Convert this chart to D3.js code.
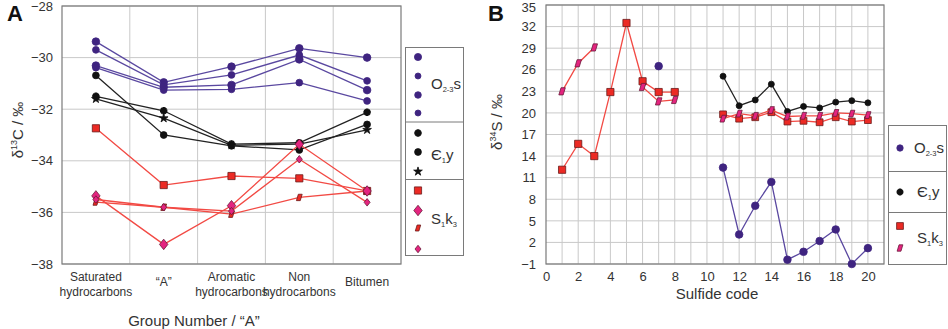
<!DOCTYPE html>
<html>
<head>
<meta charset="utf-8">
<script src="https://cdn.jsdelivr.net/npm/d3@7"></script>
<style>
  body { margin: 0; background: #fff; }
  text { font-family: "Liberation Sans", Arial, sans-serif; fill: #333; }
</style>
</head>
<body>
<svg id="chart" width="948" height="329"></svg>
<script>
// ---- panel A data ----
const groupsA = ["Saturated|hydrocarbons", "“A”", "Aromatic|hydrocarbons", "Non|hydrocarbons", "Bitumen"];
const ticksA = [-28, -30, -32, -34, -36, -38];

const o23sA1 = [-29.38, -30.96, -30.35, -29.64, -30.0];
const o23sA2 = [-29.7, -31.06, -30.67, -29.9, -30.9];
const o23sA3 = [-30.31, -31.15, -31.06, -30.07, -31.26];
const o23sA4 = [-30.39, -31.26, -31.23, -30.97, -31.68];

const e1yA1 = [-31.5, -32.06, -33.35, -33.3, -32.12];
const e1yA2 = [-30.69, -33.0, -33.42, -33.58, -32.59];
const e1yA3 = [-31.6, -32.35, -33.4, -33.35, -32.8];

const s1k3A1 = [-32.74, -34.94, -34.59, -34.68, -35.17];
const s1k3A2 = [-35.36, -37.24, -35.74, -33.36, -35.17];
const s1k3A3 = [-35.6, -35.8, -36.07, -35.42, -35.17];
const s1k3A4 = [-35.5, -35.8, -35.95, -33.94, -35.61];

// ---- panel B data ----
const ticksBy = [35, 32, 29, 26, 23, 20, 17, 14, 11, 8, 5, 2, -1];
const ticksBx = [0, 2, 4, 6, 8, 10, 12, 14, 16, 18, 20];

const sqCodesB1 = [1, 2, 3, 4, 5, 6, 7, 8];
const sqValsB1 = [12.1, 15.7, 14.0, 22.9, 32.5, 24.4, 22.9, 22.9];
const sqCodesB2 = [11, 12, 13, 14, 15, 16, 17, 18, 19, 20];
const sqValsB2 = [19.8, 19.2, 19.4, 20.1, 18.8, 18.9, 18.7, 19.4, 18.8, 19.0];

const flagCodesB1 = [1, 2, 3];
const flagValsB1 = [23.0, 26.9, 29.1];
const flagCodesB2 = [6, 7, 8];
const flagValsB2 = [23.6, 21.6, 21.8];
const flagCodesB3 = [11, 12, 13, 14, 15, 16, 17, 18, 19, 20];
const flagValsB3 = [19.2, 19.9, 19.6, 20.4, 19.5, 19.6, 19.6, 20.0, 19.9, 19.7];

const blackCodesB = [11, 12, 13, 14, 15, 16, 17, 18, 19, 20];
const blackValsB = [25.1, 21.0, 21.8, 24.0, 20.2, 20.9, 20.7, 21.5, 21.7, 21.4];

const purpleCodesB1 = [7];
const purpleValsB1 = [26.5];
const purpleCodesB2 = [11, 12, 13, 14, 15, 16, 17, 18, 19, 20];
const purpleValsB2 = [12.4, 3.1, 7.1, 10.4, -0.4, 0.7, 2.2, 3.8, -1.0, 1.2];

const PURPLE = "#3f2480", PURPLE_LINE = "#5a48a0";
const RED = "#ec2a24", PINK = "#e4247f", RED_LINE = "#f24a44";
const GRID = "#c9c9c9", FRAME = "#7a7a7a";

let svg = d3.select("#chart");

// custom marker paths
function flagPath(s) {
  return `M${-s * 0.9},${s} L${-s * 0.3},${-s} L${s * 0.9},${-s} L${s * 0.3},${s} Z`;
}
function markerPath(kind, s) {
  if (kind === "circle") return d3.symbol(d3.symbolCircle, s * s * 3.14)();
  if (kind === "square") return d3.symbol(d3.symbolSquare, s * s * 4)();
  if (kind === "diamond") return `M0,${-s * 1.25} L${s},0 L0,${s * 1.25} L${-s},0 Z`;
  if (kind === "star") return d3.symbol(d3.symbolStar, s * s * 3)();
  if (kind === "hex") return d3.symbol(d3.symbolCircle, s * s * 3.14)();
  if (kind === "flag") return flagPath(s);
  return "";
}
function drawMarker(g, kind, x, y, s, fill, stroke) {
  g.append("path")
    .attr("d", markerPath(kind, s))
    .attr("transform", `translate(${x},${y})`)
    .attr("fill", fill)
    .attr("stroke", stroke)
    .attr("stroke-width", 0.8);
  if (kind === "spiky") {
    // circle with small spikes
    g.append("path").attr("d", d3.symbol(d3.symbolCircle, s * s * 3)())
      .attr("transform", `translate(${x},${y})`).attr("fill", fill);
    g.append("path").attr("d", d3.symbol(d3.symbolCross, s * s * 4.5)())
      .attr("transform", `translate(${x},${y}) rotate(45)`).attr("fill", fill);
    g.append("path").attr("d", d3.symbol(d3.symbolCross, s * s * 4.5)())
      .attr("transform", `translate(${x},${y})`).attr("fill", fill);
  }
}

// ================= PANEL A =================
let ax = d3.scaleBand().domain(d3.range(groupsA.length)).range([62, 401]);
let ay = d3.scaleLinear().domain([-38, -28]).range([264, 6]);
let xc = i => ax(i) + ax.bandwidth() / 2;

let gA = svg.append("g");

// grid
gA.selectAll(".hgrid").data(ticksA).enter().append("line")
  .attr("x1", 62).attr("x2", 401)
  .attr("y1", d => ay(d)).attr("y2", d => ay(d))
  .attr("stroke", GRID).attr("stroke-width", 1);
gA.selectAll(".vgrid").data(d3.range(1, groupsA.length)).enter().append("line")
  .attr("x1", d => ax(d)).attr("x2", d => ax(d))
  .attr("y1", 6).attr("y2", 264)
  .attr("stroke", GRID).attr("stroke-width", 1);
gA.append("rect").attr("x", 62).attr("y", 6).attr("width", 339).attr("height", 258)
  .attr("fill", "none").attr("stroke", FRAME).attr("stroke-width", 1.2);

// y axis
let yAxisA = d3.axisLeft(ay).tickValues(ticksA).tickSize(0).tickPadding(9);
gA.append("g").attr("transform", "translate(62,0)").call(yAxisA)
  .call(g => g.select(".domain").remove())
  .selectAll("text").attr("font-size", 13).style("fill", "#333")
  .attr("font-family", "Liberation Sans, Arial, sans-serif");

// category labels
groupsA.forEach((lab, i) => {
  let parts = lab.split("|");
  let t = gA.append("text").attr("text-anchor", "middle").attr("font-size", 12);
  if (parts.length === 1) {
    t.attr("x", xc(i)).attr("y", 286).text(parts[0]);
  } else {
    t.append("tspan").attr("x", xc(i)).attr("y", 281).text(parts[0]);
    t.append("tspan").attr("x", xc(i)).attr("y", 296).text(parts[1]);
  }
});

gA.append("text").attr("x", 194).attr("y", 326).attr("text-anchor", "middle")
  .attr("font-size", 15).text("Group Number / “A”");

let ylabA = gA.append("text").attr("transform", "translate(23,130) rotate(-90)")
  .attr("text-anchor", "middle").attr("font-size", 15);
ylabA.append("tspan").text("δ");
ylabA.append("tspan").attr("font-size", 9).attr("dy", -6).text("13");
ylabA.append("tspan").attr("dy", 6).text("C / ‰");

gA.append("text").attr("x", 7).attr("y", 21).attr("font-size", 22)
  .attr("font-weight", "bold").style("fill", "#111").text("A");

let lineA = d3.line().x((d, i) => xc(i)).y(d => ay(d));

function seriesA(vals, color, kind, s, fill, stroke) {
  gA.append("path").datum(vals).attr("d", lineA)
    .attr("fill", "none").attr("stroke", color).attr("stroke-width", 1.3);
  vals.forEach((v, i) => drawMarker(gA, kind, xc(i), ay(v), s, fill, stroke));
}

seriesA(o23sA1, PURPLE_LINE, "circle", 3.8, PURPLE, PURPLE);
seriesA(o23sA2, PURPLE_LINE, "circle", 3.4, PURPLE, PURPLE);
seriesA(o23sA3, PURPLE_LINE, "circle", 3.8, PURPLE, PURPLE);
seriesA(o23sA4, PURPLE_LINE, "circle", 3.4, PURPLE, PURPLE);

seriesA(e1yA1, "#222", "spiky", 2.6, "#111", "#111");
seriesA(e1yA2, "#222", "hex", 3.4, "#111", "#111");
seriesA(e1yA3, "#222", "star", 2.8, "#111", "#111");

seriesA(s1k3A1, RED_LINE, "square", 3.6, RED, "#6a1a1a");
seriesA(s1k3A3, RED_LINE, "flag", 3.2, RED, "#6a1a1a");
seriesA(s1k3A2, RED_LINE, "diamond", 4.2, PINK, "#6a1a3a");
seriesA(s1k3A4, RED_LINE, "diamond", 3.0, PINK, "#6a1a3a");

// legend A
let legA = gA.append("g");
legA.append("rect").attr("x", 405.5).attr("y", 47.5).attr("width", 58).attr("height", 208)
  .attr("fill", "none").attr("stroke", FRAME).attr("stroke-width", 1);
[122, 179.5].forEach(y => legA.append("line").attr("x1", 405.5).attr("x2", 463.5)
  .attr("y1", y).attr("y2", y).attr("stroke", FRAME));
[[57, 3.6], [76, 3.0], [95, 3.3], [113, 3.0]].forEach(([y, s]) =>
  drawMarker(legA, "circle", 418, y, s, PURPLE, PURPLE));
drawMarker(legA, "spiky", 418, 133, 2.6, "#111", "#111");
drawMarker(legA, "hex", 418, 152, 3.4, "#111", "#111");
drawMarker(legA, "star", 418, 171.5, 2.8, "#111", "#111");
drawMarker(legA, "square", 418, 190.5, 3.6, RED, "#6a1a1a");
drawMarker(legA, "diamond", 418, 210.5, 4.2, PINK, "#6a1a3a");
drawMarker(legA, "flag", 418, 228, 3.0, RED, "#6a1a1a");
drawMarker(legA, "diamond", 418, 249, 3.0, PINK, "#6a1a3a");

function subLabel(g, x, y, main, sub, tail, size) {
  let t = g.append("text").attr("x", x).attr("y", y).attr("font-size", size);
  t.append("tspan").text(main);
  t.append("tspan").attr("font-size", size * 0.5).attr("dy", 3).text(sub);
  t.append("tspan").attr("dy", -3).text(tail);
  return t;
}
subLabel(legA, 431, 89, "O", "2-3", "s", 15);
subLabel(legA, 431, 160, "Є", "1", "y", 15);
subLabel(legA, 431, 224, "S", "1", "k", 15).append("tspan")
  .attr("font-size", 7.5).attr("dy", 3).text("3");

// ================= PANEL B =================
let bx = d3.scaleLinear().domain([0, 21]).range([546, 884]);
let by = d3.scaleLinear().domain([-1, 35]).range([264, 5]);
let gB = svg.append("g");

gB.selectAll(".vg").data(d3.range(1, 21)).enter().append("line")
  .attr("x1", d => bx(d)).attr("x2", d => bx(d)).attr("y1", 5).attr("y2", 264)
  .attr("stroke", GRID);
gB.selectAll(".hg").data(ticksBy).enter().append("line")
  .attr("x1", 546).attr("x2", 884).attr("y1", d => by(d)).attr("y2", d => by(d))
  .attr("stroke", GRID);
gB.append("rect").attr("x", 546).attr("y", 5).attr("width", 338).attr("height", 259)
  .attr("fill", "none").attr("stroke", FRAME).attr("stroke-width", 1.2);

gB.append("g").attr("transform", "translate(546,0)")
  .call(d3.axisLeft(by).tickValues(ticksBy).tickSize(0).tickPadding(10))
  .call(g => g.select(".domain").remove())
  .selectAll("text").attr("font-size", 13).style("fill", "#333")
  .attr("font-family", "Liberation Sans, Arial, sans-serif")
  .attr("dy", d => d === 35 ? "0.5em" : "0.32em");
gB.append("g").attr("transform", "translate(0,264)")
  .call(d3.axisBottom(bx).tickValues(ticksBx).tickSize(0).tickPadding(8))
  .call(g => g.select(".domain").remove())
  .selectAll("text").attr("font-size", 13).style("fill", "#333")
  .attr("font-family", "Liberation Sans, Arial, sans-serif");

gB.append("text").attr("x", 717).attr("y", 299).attr("text-anchor", "middle")
  .attr("font-size", 15).text("Sulfide code");

let ylabB = gB.append("text").attr("transform", "translate(502,122) rotate(-90)")
  .attr("text-anchor", "middle").attr("font-size", 15);
ylabB.append("tspan").text("δ");
ylabB.append("tspan").attr("font-size", 9).attr("dy", -6).text("34");
ylabB.append("tspan").attr("dy", 6).text("S / ‰");

gB.append("text").attr("x", 488).attr("y", 21).attr("font-size", 22)
  .attr("font-weight", "bold").style("fill", "#111").text("B");

function seriesB(codes, vals, color, kind, s, fill, stroke) {
  let pts = codes.map((c, i) => [c, vals[i]]);
  if (pts.length > 1) {
    gB.append("path").datum(pts)
      .attr("d", d3.line().x(d => bx(d[0])).y(d => by(d[1])))
      .attr("fill", "none").attr("stroke", color).attr("stroke-width", 1.3);
  }
  pts.forEach(p => drawMarker(gB, kind, bx(p[0]), by(p[1]), s, fill, stroke));
}

seriesB(sqCodesB1, sqValsB1, RED_LINE, "square", 3.6, RED, "#6a1a1a");
seriesB(flagCodesB1, flagValsB1, RED_LINE, "flag", 3.6, PINK, "#6a1a3a");
seriesB(flagCodesB2, flagValsB2, RED_LINE, "flag", 3.6, PINK, "#6a1a3a");
seriesB(purpleCodesB1, purpleValsB1, PURPLE_LINE, "circle", 3.8, PURPLE, PURPLE);
seriesB(blackCodesB, blackValsB, "#222", "circle", 3.0, "#111", "#111");
seriesB(sqCodesB2, sqValsB2, RED_LINE, "square", 3.4, RED, "#6a1a1a");
seriesB(flagCodesB3, flagValsB3, RED_LINE, "flag", 3.4, PINK, "#6a1a3a");
seriesB(purpleCodesB2, purpleValsB2, PURPLE_LINE, "circle", 3.8, PURPLE, PURPLE);

// legend B
let legB = gB.append("g");
legB.append("rect").attr("x", 888.5).attr("y", 125.5).attr("width", 58).attr("height", 139)
  .attr("fill", "none").attr("stroke", FRAME);
[171.5, 212.5].forEach(y => legB.append("line").attr("x1", 888.5).attr("x2", 946.5)
  .attr("y1", y).attr("y2", y).attr("stroke", FRAME));
drawMarker(legB, "circle", 900, 148, 3.2, PURPLE, PURPLE);
drawMarker(legB, "spiky", 900, 192, 2.4, "#111", "#111");
drawMarker(legB, "square", 900, 226, 3.4, RED, "#6a1a1a");
drawMarker(legB, "flag", 900, 248, 3.2, PINK, "#6a1a3a");
subLabel(legB, 914, 153, "O", "2-3", "s", 15);
subLabel(legB, 917, 197, "Є", "1", "y", 15);
subLabel(legB, 917, 243, "S", "1", "k", 15).append("tspan")
  .attr("font-size", 7.5).attr("dy", 3).text("3");
</script>
</body>
</html>
